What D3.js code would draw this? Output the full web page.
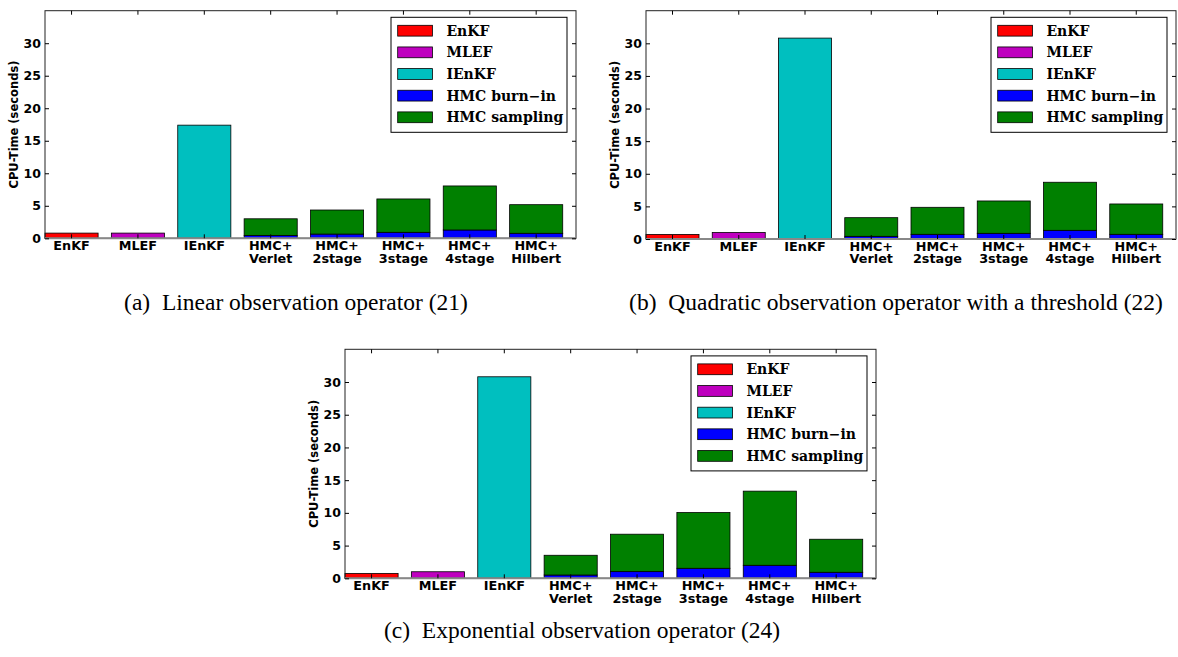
<!DOCTYPE html>
<html>
<head>
<meta charset="utf-8">
<script src="https://cdn.jsdelivr.net/npm/d3@7"></script>
<style>
  body { margin: 0; background: #fff; }
  svg { display: block; }
</style>
</head>
<body>
<div id="chart"></div>
<script>
// Data
const methods = ['EnKF', 'MLEF', 'IEnKF', 'HMC+\nVerlet', 'HMC+\n2stage', 'HMC+\n3stage', 'HMC+\n4stage', 'HMC+\nHilbert'];
const legendLabels = ['EnKF', 'MLEF', 'IEnKF', 'HMC burn\u2212in', 'HMC sampling'];
const seriesColors = ['#ff0000', '#bf00bf', '#00bfbf', '#0000ff', '#008000'];
const yTicks = [0, 5, 10, 15, 20, 25, 30];

// Filter timings (EnKF, MLEF, IEnKF)
const filterLinear = [0.8, 0.8, 17.4];
const filterQuadratic = [0.7, 1.0, 30.8];
const filterExponential = [0.75, 1.0, 30.8];

// HMC burn-in and total timings (Verlet, 2stage, 3stage, 4stage, Hilbert)
const burnLinear = [0.45, 0.65, 0.92, 1.28, 0.77];
const totalLinear = [3.0, 4.35, 6.05, 8.05, 5.17];
const burnQuadratic = [0.41, 0.72, 0.87, 1.33, 0.72];
const totalQuadratic = [3.27, 4.86, 5.83, 8.7, 5.37];
const burnExponential = [0.5, 1.02, 1.53, 1.99, 0.92];
const totalExponential = [3.52, 6.74, 10.05, 13.32, 5.97];

const captions = [
  '(a)\u2002Linear observation operator (21)',
  '(b)\u2002Quadratic observation operator with a threshold (22)',
  '(c)\u2002Exponential observation operator (24)'
];

const W = 1178, H = 657;
const svg = d3.select('#chart').append('svg')
  .attr('width', W).attr('height', H);

const panels = [
  { filt: filterLinear, burn: burnLinear, total: totalLinear, caption: captions[0],
    left: 45, right: 576, top: 10.7, bottom: 238.3, capX: 296, capY: 310 },
  { filt: filterQuadratic, burn: burnQuadratic, total: totalQuadratic, caption: captions[1],
    left: 646, right: 1176, top: 10.7, bottom: 239, capX: 896, capY: 310 },
  { filt: filterExponential, burn: burnExponential, total: totalExponential, caption: captions[2],
    left: 345, right: 876, top: 349.3, bottom: 578.3, capX: 582, capY: 638 }
];

panels.forEach(drawPanel);

function drawPanel(p) {
  const g = svg.append('g');

  const x = d3.scaleBand()
    .domain(methods)
    .range([p.left, p.right])
    .paddingInner(0.2)
    .paddingOuter(0.1)
    .align(0);

  const y = d3.scaleLinear()
    .domain([0, 35])
    .range([p.bottom, p.top]);

  // Build stacked segments: filter bars plus HMC burn-in / sampling
  const segs = [];
  p.filt.forEach((v, i) => segs.push({ m: methods[i], y0: 0, y1: v, c: seriesColors[i] }));
  p.burn.forEach((b, i) => {
    const m = methods[i + 3];
    segs.push({ m, y0: 0, y1: b, c: seriesColors[3] });
    segs.push({ m, y0: b, y1: p.total[i], c: seriesColors[4] });
  });

  g.selectAll('rect.bar')
    .data(segs)
    .enter().append('rect')
    .attr('class', 'bar')
    .attr('x', d => x(d.m))
    .attr('width', x.bandwidth())
    .attr('y', d => y(d.y1))
    .attr('height', d => y(d.y0) - y(d.y1))
    .attr('fill', d => d.c)
    .attr('stroke', '#000')
    .attr('stroke-width', 0.8);

  // Frame
  g.append('rect')
    .attr('x', p.left).attr('y', p.top)
    .attr('width', p.right - p.left).attr('height', p.bottom - p.top)
    .attr('fill', 'none')
    .attr('stroke', '#222')
    .attr('stroke-width', 1);

  // Zero line
  g.append('line')
    .attr('x1', p.left).attr('x2', p.right)
    .attr('y1', y(0)).attr('y2', y(0))
    .attr('stroke', '#888')
    .attr('stroke-width', 2);

  // Y axis (left with labels, right ticks only)
  const yAxis = g.append('g')
    .attr('transform', `translate(${p.left},0)`)
    .call(d3.axisLeft(y).tickValues(yTicks).tickSize(-4).tickPadding(4));
  yAxis.select('.domain').remove();
  yAxis.selectAll('text')
    .style('font-family', '"DejaVu Sans", sans-serif')
    .style('font-weight', 'bold')
    .style('font-size', '12.5px')
    .attr('fill', '#000');

  const yAxisR = g.append('g')
    .attr('transform', `translate(${p.right},0)`)
    .call(d3.axisRight(y).tickValues(yTicks).tickSize(-4).tickFormat(''));
  yAxisR.select('.domain').remove();

  // X ticks (top and bottom, inward)
  const centers = x.domain().map(m => x(m) + x.bandwidth() / 2);
  g.selectAll('line.xt')
    .data(centers)
    .enter().append('line')
    .attr('x1', d => d).attr('x2', d => d)
    .attr('y1', p.top).attr('y2', p.top + 4)
    .attr('stroke', '#000');
  g.selectAll('line.xb')
    .data(centers)
    .enter().append('line')
    .attr('x1', d => d).attr('x2', d => d)
    .attr('y1', p.bottom).attr('y2', p.bottom - 4)
    .attr('stroke', '#000');

  // X labels (multi-line, top aligned)
  const xl = g.selectAll('text.xl')
    .data(methods)
    .enter().append('text')
    .attr('class', 'xl')
    .attr('x', d => x(d) + x.bandwidth() / 2)
    .attr('y', p.bottom + 11.5)
    .attr('text-anchor', 'middle')
    .style('font-family', '"DejaVu Sans", sans-serif')
    .style('font-weight', 'bold')
    .style('font-size', '12.8px');
  xl.each(function(d) {
    const t = d3.select(this);
    d.split('\n').forEach((line, k) => {
      t.append('tspan')
        .attr('x', t.attr('x'))
        .attr('dy', k === 0 ? 0 : 12.8)
        .text(line);
    });
  });

  // Y label
  g.append('text')
    .attr('transform', `translate(${p.left - 31},${(p.top + p.bottom) / 2}) rotate(-90)`)
    .attr('text-anchor', 'middle')
    .attr('dy', '0.35em')
    .style('font-family', '"DejaVu Sans", sans-serif')
    .style('font-weight', 'bold')
    .style('font-size', '11.5px')
    .text('CPU-Time (seconds)');

  // Legend
  const lx = p.right - 185, ly = p.top + 6.6;
  const leg = g.append('g').attr('transform', `translate(${lx},${ly})`);
  leg.append('rect')
    .attr('width', 176).attr('height', 115)
    .attr('fill', '#fff')
    .attr('stroke', '#000')
    .attr('stroke-width', 1);
  const rows = leg.selectAll('g.row')
    .data(legendLabels)
    .enter().append('g')
    .attr('transform', (d, i) => `translate(0,${13.4 + i * 21.65})`);
  rows.append('rect')
    .attr('x', 6.7).attr('y', -5.4)
    .attr('width', 34.7).attr('height', 10.8)
    .attr('fill', (d, i) => seriesColors[i])
    .attr('stroke', '#000')
    .attr('stroke-width', 0.8);
  rows.append('text')
    .attr('x', 55.4)
    .attr('dy', '0.36em')
    .style('font-family', '"DejaVu Serif", serif')
    .style('font-weight', 'bold')
    .style('font-size', '14px')
    .text(d => d);

  // Caption
  svg.append('text')
    .attr('x', p.capX)
    .attr('y', p.capY)
    .attr('text-anchor', 'middle')
    .style('font-family', '"Liberation Serif", "Times New Roman", serif')
    .style('font-size', '23.5px')
    .text(p.caption);
}
</script>
</body>
</html>
